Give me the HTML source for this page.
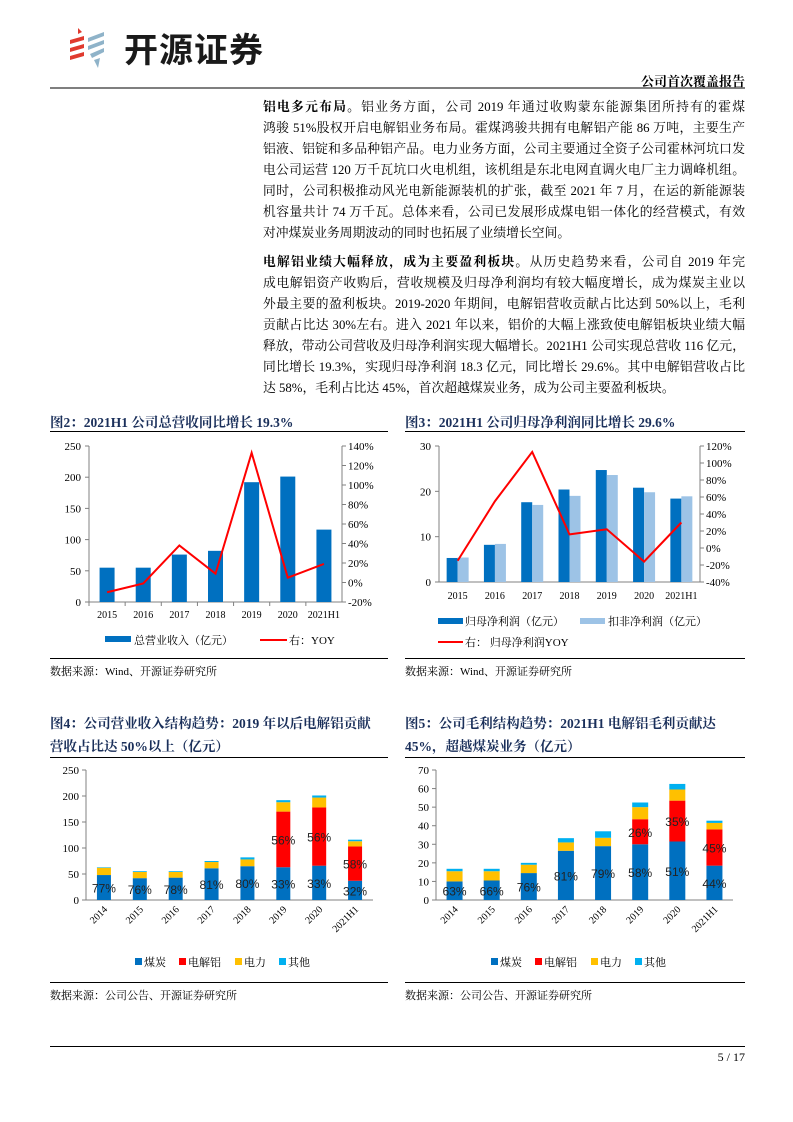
<!DOCTYPE html>
<html><head><meta charset="utf-8">
<style>
body{margin:0;width:793px;height:1122px;position:relative;background:#fff;font-family:"Liberation Serif","Noto Serif CJK SC",serif;color:#000;overflow:hidden}
.abs{position:absolute}
.ln{position:absolute;left:263px;width:482px;font-size:12.8px;line-height:21px;text-align:justify;text-align-last:justify;white-space:nowrap}
.ln.last{text-align-last:left}
.ttl{position:absolute;font-size:13.5px;font-weight:bold;color:#1a2f5a;white-space:nowrap}
.src{position:absolute;font-size:11px;white-space:nowrap}
.hr{position:absolute;height:1px;background:#000}
</style></head><body>
<div class="abs" style="left:68px;top:26px;width:220px;height:44px">
<svg width="44" height="44" viewBox="0 0 44 44">
<g fill="#e03a2e"><path d="M2 14 L16 10 L16 14 L2 18Z"/><path d="M2 22 L16 18 L16 22 L2 26Z"/><path d="M2 30 L16 26 L16 30 L2 34Z"/><path d="M10 2 L14 6 L10 8Z"/></g>
<g fill="#8fb3c9"><path d="M20 12 L36 6 L36 10 L20 16Z"/><path d="M20 20 L36 14 L36 18 L20 24Z"/><path d="M22 28 L36 22 L36 26 L24 32Z"/><path d="M26 34 L32 32 L30 42Z"/></g>
</svg>
<span class="abs" style="left:56px;top:0;font-family:'Noto Sans CJK SC',sans-serif;font-size:34px;font-weight:bold;color:#1a1a1a;letter-spacing:1px;line-height:44px">开源证券</span>
</div>
<div class="abs" style="left:50px;top:87px;width:695px;height:2px;background:#7f7f7f"></div>
<div class="abs" style="right:48px;top:71px;font-size:13px;font-weight:bold">公司首次覆盖报告</div>

<div>
<div class="ln" style="top:97px"><b>铝电多元布局。</b>铝业务方面，公司 2019 年通过收购蒙东能源集团所持有的霍煤</div>
<div class="ln" style="top:118px">鸿骏 51%股权开启电解铝业务布局。霍煤鸿骏共拥有电解铝产能 86 万吨，主要生产</div>
<div class="ln" style="top:139px">铝液、铝锭和多品种铝产品。电力业务方面，公司主要通过全资子公司霍林河坑口发</div>
<div class="ln" style="top:160px">电公司运营 120 万千瓦坑口火电机组，该机组是东北电网直调火电厂主力调峰机组。</div>
<div class="ln" style="top:181px">同时，公司积极推动风光电新能源装机的扩张，截至 2021 年 7 月，在运的新能源装</div>
<div class="ln" style="top:202px">机容量共计 74 万千瓦。总体来看，公司已发展形成煤电铝一体化的经营模式，有效</div>
<div class="ln last" style="top:223px">对冲煤炭业务周期波动的同时也拓展了业绩增长空间。</div>
</div>
<div>
<div class="ln" style="top:252px"><b>电解铝业绩大幅释放，成为主要盈利板块。</b>从历史趋势来看，公司自 2019 年完</div>
<div class="ln" style="top:273px">成电解铝资产收购后，营收规模及归母净利润均有较大幅度增长，成为煤炭主业以</div>
<div class="ln" style="top:294px">外最主要的盈利板块。2019-2020 年期间，电解铝营收贡献占比达到 50%以上，毛利</div>
<div class="ln" style="top:315px">贡献占比达 30%左右。进入 2021 年以来，铝价的大幅上涨致使电解铝板块业绩大幅</div>
<div class="ln" style="top:336px">释放，带动公司营收及归母净利润实现大幅增长。2021H1 公司实现总营收 116 亿元，</div>
<div class="ln" style="top:357px">同比增长 19.3%，实现归母净利润 18.3 亿元，同比增长 29.6%。其中电解铝营收占比</div>
<div class="ln last" style="top:378px">达 58%，毛利占比达 45%，首次超越煤炭业务，成为公司主要盈利板块。</div>
</div>

<div class="ttl" style="left:50px;top:411px">图2：2021H1 公司总营收同比增长 19.3%</div>
<div class="ttl" style="left:405px;top:411px">图3：2021H1 公司归母净利润同比增长 29.6%</div>
<div class="hr" style="left:50px;top:431px;width:338px"></div>
<div class="hr" style="left:405px;top:431px;width:340px"></div>
<div class="hr" style="left:50px;top:658px;width:338px"></div>
<div class="hr" style="left:405px;top:658px;width:340px"></div>
<div class="src" style="left:50px;top:663px">数据来源：Wind、开源证券研究所</div>
<div class="src" style="left:405px;top:663px">数据来源：Wind、开源证券研究所</div>

<div class="ttl" style="left:50px;top:712px;line-height:23px">图4：公司营业收入结构趋势：2019 年以后电解铝贡献<br>营收占比达 50%以上（亿元）</div>
<div class="ttl" style="left:405px;top:712px;line-height:23px">图5：公司毛利结构趋势：2021H1 电解铝毛利贡献达<br>45%，超越煤炭业务（亿元）</div>
<div class="hr" style="left:50px;top:757px;width:338px"></div>
<div class="hr" style="left:405px;top:757px;width:340px"></div>
<div class="hr" style="left:50px;top:982px;width:338px"></div>
<div class="hr" style="left:405px;top:982px;width:340px"></div>
<div class="src" style="left:50px;top:987px">数据来源：公司公告、开源证券研究所</div>
<div class="src" style="left:405px;top:987px">数据来源：公司公告、开源证券研究所</div>

<div class="abs" style="left:50px;top:1046px;width:695px;height:1px;background:#000"></div>
<div class="abs" style="right:48px;top:1050px;font-size:12px">5 / 17</div>

<svg id="c" class="abs" style="left:0;top:0" width="793" height="1122" font-family="Liberation Serif, Noto Serif CJK SC, serif"></svg>
<script>
// Fig2
const f2Cats=['2015','2016','2017','2018','2019','2020','2021H1'];
const f2Rev=[55,55,76,82,192,201,116];
const f2Yoy=[-10,-1,38,9,133,5,19];
const f2LTicks=[0,50,100,150,200,250];
const f2RTicks=[-20,0,20,40,60,80,100,120,140];
// Fig3
const f3Cats=['2015','2016','2017','2018','2019','2020','2021H1'];
const f3Net=[5.3,8.2,17.6,20.4,24.7,20.8,18.4];
const f3Deduct=[5.4,8.4,17.0,19.0,23.6,19.8,18.9];
const f3Yoy=[-15,55,113,16,22,-16,30];
const f3LTicks=[0,10,20,30];
const f3RTicks=[-40,-20,0,20,40,60,80,100,120];
// Fig4
const f4Cats=['2014','2015','2016','2017','2018','2019','2020','2021H1'];
const f4Coal=[48,42,43,61,65,63,66,37];
const f4Alu=[0,0,0,0,0,107,112,66];
const f4Power=[14,12,11,12,13,18,19,10];
const f4Other=[1,1.5,1.5,2,4,4,4,3];
const f4CoalLbl=['77%','76%','78%','81%','80%','33%','33%','32%'];
const f4AluLbl=['','','','','','56%','56%','58%'];
const f4Ticks=[0,50,100,150,200,250];
// Fig5
const f5Cats=['2014','2015','2016','2017','2018','2019','2020','2021H1'];
const f5Coal=[10,10.5,14.5,26.5,29,30,31.5,18.5];
const f5Alu=[0,0,0,0,0,13.5,22,19.5];
const f5Power=[5.5,5,4.5,4.5,4.5,6.5,6,3.5];
const f5Other=[1.3,1.3,1,2.3,3.5,2.5,3,1.2];
const f5CoalLbl=['63%','66%','76%','81%','79%','58%','51%','44%'];
const f5AluLbl=['','','','','','26%','35%','45%'];
const f5Ticks=[0,10,20,30,40,50,60,70];

const S=document.getElementById('c');const NS='http://www.w3.org/2000/svg';
function mk(t,a,txt){const e=document.createElementNS(NS,t);for(const k in a)e.setAttribute(k,a[k]);if(txt!==undefined)e.textContent=txt;S.appendChild(e);return e;}
const BLUE='#0070c0',LB='#9dc3e6',RED='#ff0000',YEL='#ffc000',CY='#00b0f0',AX='#808080';
function lin(d0,d1,r0,r1){return v=>r0+(v-d0)*(r1-r0)/(d1-d0);}

// ---- Fig2
(function(){
const x0=89,x1=342,yb=602,yt=446;
const y=lin(0,250,yb,yt), yr=lin(-20,140,yb,yt);
const bw=(x1-x0)/f2Cats.length, cx=i=>x0+bw*(i+0.5);
let e;
e=mk('line',{x1:x0,y1:yt,x2:x0,y2:yb,stroke:AX});
e=mk('line',{x1:x1,y1:yt,x2:x1,y2:yb,stroke:AX});
e=mk('line',{x1:x0,y1:yb,x2:x1,y2:yb,stroke:AX});
f2LTicks.forEach(t=>{mk('line',{x1:x0-4,y1:y(t),x2:x0,y2:y(t),stroke:AX});e=mk('text',{x:x0-8,y:y(t)+4,'font-size':11,'text-anchor':'end'},t);});
f2RTicks.forEach(t=>{mk('line',{x1:x1,y1:yr(t),x2:x1+4,y2:yr(t),stroke:AX});e=mk('text',{x:x1+6,y:yr(t)+4,'font-size':11},t+'%');});
f2Cats.forEach((c,i)=>{mk('line',{x1:x0+bw*i,y1:yb,x2:x0+bw*i,y2:yb+4,stroke:AX});
 e=mk('rect',{x:cx(i)-7.5,y:y(f2Rev[i]),width:15,height:yb-y(f2Rev[i]),fill:BLUE});
 e=mk('text',{x:cx(i),y:yb+16,'font-size':10,'text-anchor':'middle'},c);});
e=mk('polyline',{points:f2Yoy.map((v,i)=>cx(i)+','+yr(v)).join(' '),fill:'none',stroke:RED,'stroke-width':2});
e=mk('rect',{x:105,y:636,width:26,height:6,fill:BLUE});
mk('text',{x:134,y:644,'font-size':11},'总营业收入（亿元）');
e=mk('line',{x1:260,y1:640,x2:287,y2:640,stroke:RED,'stroke-width':2});
mk('text',{x:289,y:644,'font-size':11},'右：YOY');
})();

// ---- Fig3
(function(){
const x0=439,x1=700,yb=582,yt=446;
const y=lin(0,30,yb,yt), yr=lin(-40,120,yb,yt);
const bw=(x1-x0)/f3Cats.length, cx=i=>x0+bw*(i+0.5);
let e;
mk('line',{x1:x0,y1:yt,x2:x0,y2:yb,stroke:AX});mk('line',{x1:x1,y1:yt,x2:x1,y2:yb,stroke:AX});mk('line',{x1:x0,y1:yb,x2:x1,y2:yb,stroke:AX});
f3LTicks.forEach(t=>{mk('line',{x1:x0-4,y1:y(t),x2:x0,y2:y(t),stroke:AX});e=mk('text',{x:x0-8,y:y(t)+4,'font-size':11,'text-anchor':'end'},t);});
f3RTicks.forEach(t=>{mk('line',{x1:x1,y1:yr(t),x2:x1+4,y2:yr(t),stroke:AX});e=mk('text',{x:x1+6,y:yr(t)+4,'font-size':11},t+'%');});
f3Cats.forEach((c,i)=>{
 e=mk('rect',{x:cx(i)-11,y:y(f3Net[i]),width:11,height:yb-y(f3Net[i]),fill:BLUE});
 e=mk('rect',{x:cx(i),y:y(f3Deduct[i]),width:11,height:yb-y(f3Deduct[i]),fill:LB});
 e=mk('text',{x:cx(i),y:yb+17,'font-size':10,'text-anchor':'middle'},c);});
e=mk('polyline',{points:f3Yoy.map((v,i)=>cx(i)+','+yr(v)).join(' '),fill:'none',stroke:RED,'stroke-width':2});
e=mk('rect',{x:438,y:618,width:25,height:6,fill:BLUE});
mk('text',{x:465,y:625,'font-size':11},'归母净利润（亿元）');
e=mk('rect',{x:580,y:618,width:25,height:6,fill:LB});
mk('text',{x:608,y:625,'font-size':11},'扣非净利润（亿元）');
e=mk('line',{x1:438,y1:642,x2:463,y2:642,stroke:RED,'stroke-width':2});
mk('text',{x:465,y:646,'font-size':11},'右： 归母净利润YOY');
})();

// ---- stacked charts
function stacked(pfx,cats,coal,alu,pow,oth,cl,al,ticks,max,x0,x1,bwid){
const yb=900,yt=770,y=lin(0,max,yb,yt);
const bw=(x1-x0)/cats.length,cx=i=>x0+bw*(i+0.5);let e;
mk('line',{x1:x0,y1:yt,x2:x0,y2:yb,stroke:AX});mk('line',{x1:x0,y1:yb,x2:x1,y2:yb,stroke:AX});
ticks.forEach(t=>{mk('line',{x1:x0-4,y1:y(t),x2:x0,y2:y(t),stroke:AX});e=mk('text',{x:x0-7,y:y(t)+4,'font-size':11,'text-anchor':'end'},t);});
cats.forEach((c,i)=>{
 let base=0;[[coal,BLUE,'coal'],[alu,RED,'alu'],[pow,YEL,'power'],[oth,CY,'other']].forEach(([arr,col,n])=>{
  const v=arr[i];if(v>0){e=mk('rect',{x:cx(i)-bwid/2,y:y(base+v),width:bwid,height:y(base)-y(base+v),fill:col});}
  base+=v;});
 e=mk('text',{x:cx(i),y:Math.min(y(coal[i]/2)+5,yb-3),'font-size':12,'text-anchor':'middle','font-family':'Liberation Sans, sans-serif',fill:'#222'},cl[i]);
 if(al[i]){e=mk('text',{x:cx(i),y:y(coal[i]+alu[i]/2)+5,'font-size':12,'text-anchor':'middle','font-family':'Liberation Sans, sans-serif',fill:'#222'},al[i]);}
 e=mk('text',{x:cx(i)+4,y:yb+10,'font-size':10,'text-anchor':'end',transform:`rotate(-45 ${cx(i)+4} ${yb+10})`},c);
});
}
stacked('fig4',f4Cats,f4Coal,f4Alu,f4Power,f4Other,f4CoalLbl,f4AluLbl,f4Ticks,250,86,373,14);
stacked('fig5',f5Cats,f5Coal,f5Alu,f5Power,f5Other,f5CoalLbl,f5AluLbl,f5Ticks,70,436,733,16);
function leg(pfx,x){const items=[['煤炭',BLUE],['电解铝',RED],['电力',YEL],['其他',CY]];const w=[44,56,44,44];let cx=x;
 items.forEach(([t,c],k)=>{let e=mk('rect',{x:cx,y:958,width:7,height:7,fill:c});mk('text',{x:cx+9,y:966,'font-size':11},t);cx+=w[k];});}
leg('fig4',135);leg('fig5',491);
</script>
</body></html>
